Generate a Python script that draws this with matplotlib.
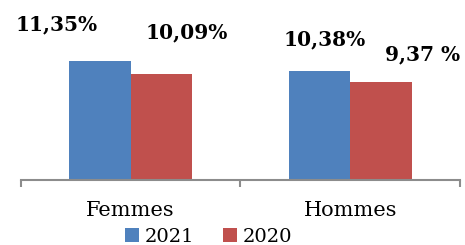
import numpy as np
import matplotlib.pyplot as plt

categories = ["Femmes", "Hommes"]
series = ["2021", "2020"]
v2021 = [11.35, 10.38]
v2020 = [10.09, 9.37]
labels2021 = ["11,35%", "10,38%"]
labels2020 = ["10,09%", "9,37 %"]

colors = ["#4F81BD", "#C0504D"]
w = 0.28

fig = plt.figure(figsize=(4.65, 2.45), dpi=100)
ax = fig.add_axes([0.045, 0.265, 0.944, 0.686])

x = np.arange(len(categories))
b1 = ax.bar(x - w / 2, v2021, w, color=colors[0], label=series[0])
b2 = ax.bar(x + w / 2, v2020, w, color=colors[1], label=series[1])

# hand-placed labels, pixel offsets from bar top centre
off1 = [(-43, 36), (5, 32)]
off2 = [(25, 42), (42, 27)]
for bars, labs, offs in [(b1, labels2021, off1), (b2, labels2020, off2)]:
    for r, t, (dx, dy) in zip(bars, labs, offs):
        ax.annotate(t, (r.get_x() + r.get_width() / 2, r.get_height()),
                    xytext=(dx, dy), textcoords="offset pixels",
                    ha="center", va="center", fontsize=14.5, fontweight="bold",
                    family="DejaVu Serif", annotation_clip=False)

ax.set_xlim(-0.5, 1.5)
ax.set_ylim(0, 16)
for s in ["top", "left", "right"]:
    ax.spines[s].set_visible(False)
ax.spines["bottom"].set_color("#8C8C8C")
ax.spines["bottom"].set_linewidth(1.5)
ax.set_yticks([])
ax.set_xticks(x)
ax.set_xticklabels(categories, family="DejaVu Serif", fontsize=15)
ax.tick_params(axis="x", length=0, pad=15)
ax.set_xticks([-0.5, 0.5, 1.5], minor=True)
ax.tick_params(axis="x", which="minor", length=5, width=1.5, color="#8C8C8C")

ax.legend(loc="lower center", bbox_to_anchor=(0.428, -0.45), ncol=2, frameon=False,
          prop={"family": "DejaVu Serif", "size": 14}, handlelength=0.7,
          handleheight=0.7, handletextpad=0.3, columnspacing=1.5, borderpad=0)

fig.savefig("out.png", dpi=100)
